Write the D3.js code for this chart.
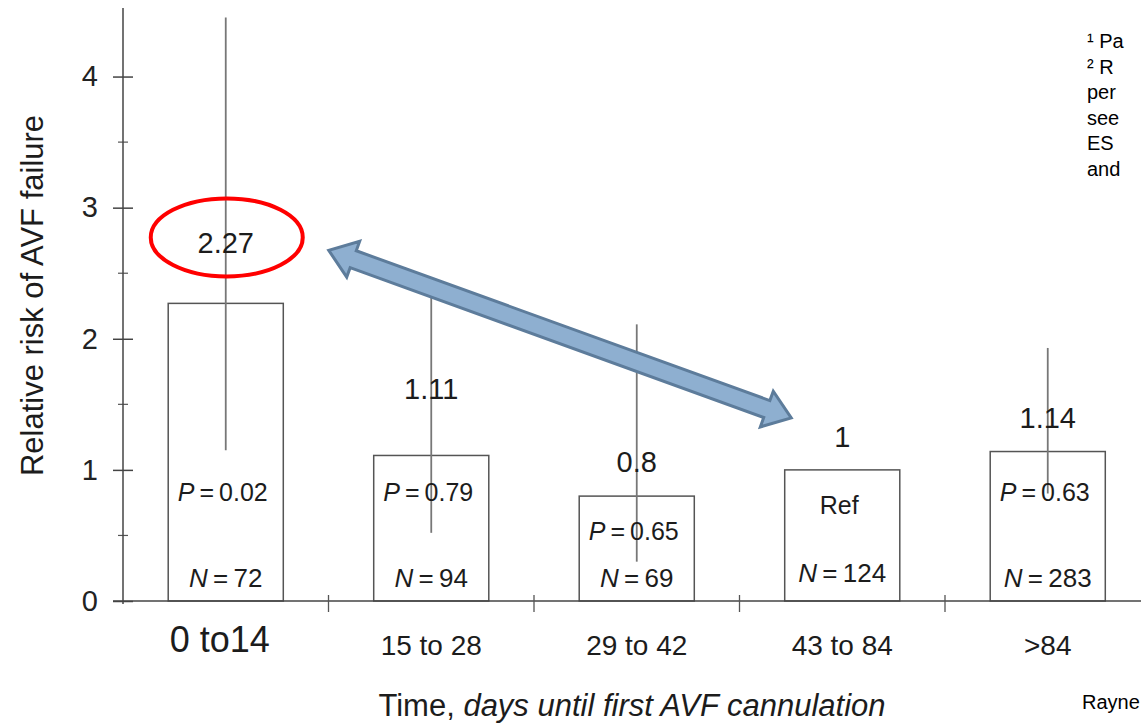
<!DOCTYPE html>
<html>
<head>
<meta charset="utf-8">
<script src="https://cdn.jsdelivr.net/npm/d3@7"></script>
<style>
  body { margin: 0; background: #fff; }
  svg { display: block; font-family: Arial, "Liberation Sans", Helvetica, sans-serif; }
  .lbl { fill: #1c1c1c; }
</style>
</head>
<body>
<svg id="chart" width="1141" height="724"></svg>
<script>
// data
const categories = ["0 to14", "15 to 28", "29 to 42", "43 to 84", ">84"];
const riskValues = [2.27, 1.11, 0.8, 1, 1.14];
const valueLabels = ["2.27", "1.11", "0.8", "1", "1.14"];
const ciLow = [1.15, 0.52, 0.30, null, 0.82];
const ciHigh = [4.45, 2.32, 2.11, null, 1.93];
const pValues = ["0.02", "0.79", "0.65", null, "0.63"];
const nCounts = [72, 94, 69, 124, 283];
const yTicks = [0, 1, 2, 3, 4];
const yMinorTicks = [0.5, 1.5, 2.5, 3.5];
const sideNotes = ["\u00b9 Pa", "\u00b2 R", "per", "see", "ES", "and"];

// layout
const plot = { left: 123, right: 1150.5, top: 11, bottom: 601 };
const labelLift = [50, 56, 24, 23, 24];

const svg = d3.select("#chart");

const x = d3.scaleBand()
    .domain(categories)
    .range([plot.left, plot.right])
    .paddingInner(0.44)
    .paddingOuter(0.22);

const y = d3.scaleLinear()
    .domain([0, 4.5])
    .range([plot.bottom, plot.top]);

const bw = x.bandwidth();
const step = x.step();
const cx = c => x(c) + bw / 2;

// y axis
const yAxis = svg.append("g")
    .attr("transform", `translate(${plot.left},0)`)
    .call(d3.axisLeft(y).tickValues(yTicks).tickSize(10).tickPadding(15).tickFormat(d3.format("d")));
yAxis.select(".domain").remove();
yAxis.selectAll(".tick line").attr("x1", -10).attr("x2", 10).attr("stroke", "#444").attr("stroke-width", 1.5);
yAxis.selectAll(".tick text").attr("font-size", 29).attr("fill", "#222").attr("font-family", null);
yAxis.selectAll(".minor").data(yMinorTicks).enter().append("line")
    .attr("class", "minor")
    .attr("x1", -5).attr("x2", 5)
    .attr("y1", d => y(d)).attr("y2", d => y(d))
    .attr("stroke", "#555").attr("stroke-width", 1.2);
svg.append("line")
    .attr("x1", plot.left).attr("x2", plot.left)
    .attr("y1", 8).attr("y2", plot.bottom + 3)
    .attr("stroke", "#444").attr("stroke-width", 1.5);

svg.append("text")
    .attr("class", "lbl")
    .attr("transform", `translate(32,${y(2.33)})rotate(-90)`)
    .attr("text-anchor", "middle")
    .attr("dy", "0.35em")
    .attr("font-size", 31)
    .text("Relative risk of AVF failure");

// bars
const bars = svg.append("g");
bars.selectAll("rect").data(categories).enter().append("rect")
    .attr("x", d => x(d))
    .attr("width", bw)
    .attr("y", (d, i) => y(riskValues[i]))
    .attr("height", (d, i) => y(0) - y(riskValues[i]))
    .attr("fill", "#fff")
    .attr("stroke", "#555")
    .attr("stroke-width", 1.5);

// error bars
bars.selectAll(".err").data(categories.filter((d, i) => ciLow[i] != null)).enter().append("line")
    .attr("class", "err")
    .attr("x1", d => cx(d)).attr("x2", d => cx(d))
    .attr("y1", d => y(ciLow[categories.indexOf(d)]))
    .attr("y2", d => y(ciHigh[categories.indexOf(d)]))
    .attr("stroke", "#777").attr("stroke-width", 1.8);

// x axis
svg.append("line")
    .attr("x1", plot.left - 10).attr("x2", 1141)
    .attr("y1", plot.bottom).attr("y2", plot.bottom)
    .attr("stroke", "#444").attr("stroke-width", 1.5);
const edges = categories.map(c => x(c) - (step - bw) / 2).slice(1);
svg.selectAll(".xtick").data(edges).enter().append("line")
    .attr("x1", d => d).attr("x2", d => d)
    .attr("y1", plot.bottom - 6).attr("y2", plot.bottom + 11)
    .attr("stroke", "#555").attr("stroke-width", 1.3);

svg.selectAll(".cat").data(categories).enter().append("text")
    .attr("class", "lbl")
    .attr("x", (d, i) => i === 0 ? cx(d) - 6 : cx(d))
    .attr("y", (d, i) => i === 0 ? 652 : 655)
    .attr("text-anchor", "middle")
    .attr("font-size", (d, i) => i === 0 ? 36 : 28)
    .attr("fill", (d, i) => i === 0 ? "#000" : "#222")
    .text(d => d);

const title = svg.append("text")
    .attr("class", "lbl")
    .attr("x", 632).attr("y", 716)
    .attr("text-anchor", "middle")
    .attr("font-size", 31);
title.append("tspan").text("Time, ");
title.append("tspan").attr("font-style", "italic").text("days until first AVF cannulation");

// value labels
svg.selectAll(".val").data(categories).enter().append("text")
    .attr("class", "lbl")
    .attr("x", d => cx(d))
    .attr("y", (d, i) => y(riskValues[i]) - labelLift[i])
    .attr("text-anchor", "middle")
    .attr("font-size", 29)
    .text((d, i) => valueLabels[i]);

// P labels
const pl = svg.selectAll(".pl").data(categories).enter().append("text")
    .attr("class", "lbl")
    .attr("x", d => cx(d) - 3)
    .attr("y", (d, i) => Math.max(y(riskValues[i]) + 44, y(0.76)))
    .attr("text-anchor", "middle")
    .attr("font-size", 25);
pl.each(function(d, i) {
    const t = d3.select(this);
    if (pValues[i] == null) {
        t.text("Ref");
    } else {
        t.append("tspan").attr("font-style", "italic").text("P");
        t.append("tspan").text("\u2009=\u2009" + pValues[i]);
    }
});

// N labels
const nl = svg.selectAll(".nl").data(categories).enter().append("text")
    .attr("class", "lbl")
    .attr("x", d => cx(d))
    .attr("y", (d, i) => i === 3 ? 582 : 587)
    .attr("text-anchor", "middle")
    .attr("font-size", 26);
nl.append("tspan").attr("font-style", "italic").text("N");
nl.append("tspan").text((d, i) => "\u2009=\u2009" + nCounts[i]);

// annotations: red ellipse round the first value, double arrow
svg.append("ellipse")
    .attr("cx", cx(categories[0]) + 1)
    .attr("cy", y(riskValues[0]) - 66)
    .attr("rx", 76).attr("ry", 39)
    .attr("fill", "none")
    .attr("stroke", "#f00")
    .attr("stroke-width", 4);

const a = [cx(categories[0]) + 103, y(riskValues[0]) - 53];
const b = [cx(categories[3]) - 51, y(riskValues[3]) - 52];
const len = Math.hypot(b[0] - a[0], b[1] - a[1]);
const u = [(b[0] - a[0]) / len, (b[1] - a[1]) / len];
const n = [-u[1], u[0]];
const sw = 9, hw = 19, hl = 26;
const pt = (p, along, side) => [p[0] + u[0] * along + n[0] * side, p[1] + u[1] * along + n[1] * side];
const arrowPts = [
    a, pt(a, hl, hw), pt(a, hl, sw), pt(b, -hl, sw), pt(b, -hl, hw),
    b, pt(b, -hl, -hw), pt(b, -hl, -sw), pt(a, hl, -sw), pt(a, hl, -hw)
];
svg.append("path")
    .attr("d", d3.line()(arrowPts) + "Z")
    .attr("fill", "#8eafd0")
    .attr("stroke", "#5d7c9b")
    .attr("stroke-width", 3)
    .attr("stroke-linejoin", "miter");

// cut-off side notes
svg.selectAll(".note").data(sideNotes).enter().append("text")
    .attr("x", 1087)
    .attr("y", (d, i) => 48 + i * 25.5)
    .attr("font-size", 20)
    .attr("fill", "#000")
    .text(d => d);
svg.append("text")
    .attr("x", 1082).attr("y", 709)
    .attr("font-size", 20)
    .attr("fill", "#000")
    .text("Rayne");
</script>
</body>
</html>
